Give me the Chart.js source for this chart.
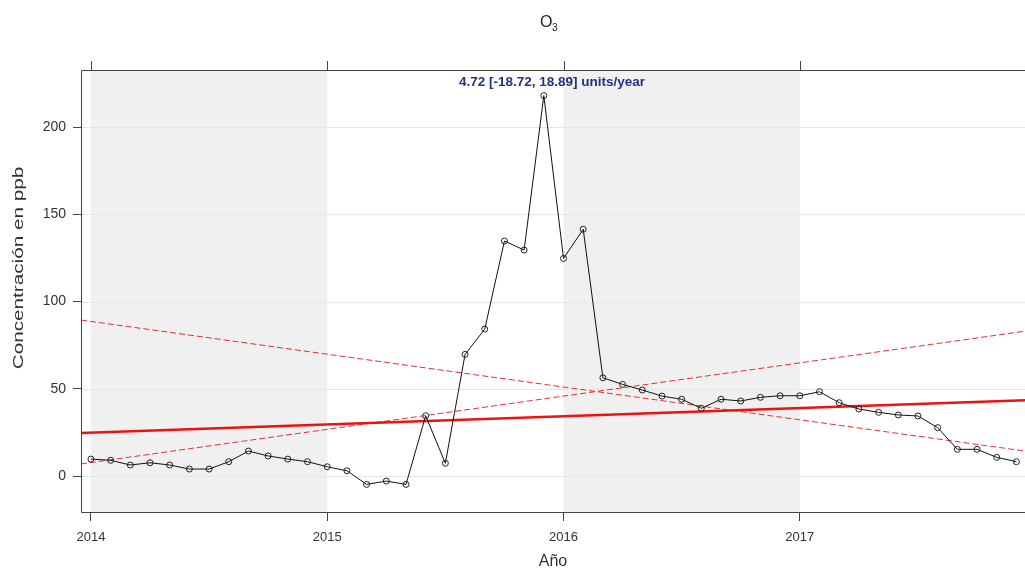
<!DOCTYPE html>
<html>
<head>
<meta charset="utf-8">
<script src="https://cdn.jsdelivr.net/npm/chart.js@4.4.0/dist/chart.umd.min.js"></script>
<style>
  html, body { margin: 0; padding: 0; background: #fff; overflow: hidden; }
  #wrap { width: 1025px; height: 575px; }
</style>
</head>
<body>
<div id="wrap"><canvas id="o3Chart" width="1025" height="575"></canvas></div>
<script>
// Datos mensuales de O3 (ppb), enero a diciembre
const anios = [2014, 2015, 2016, 2017];
const o3_2014 = [9.7, 9, 6.3, 7.6, 6.3, 4, 4, 8.2, 14.3, 11.5, 9.7, 8.2];
const o3_2015 = [5.3, 3, -4.8, -2.9, -4.8, 34.5, 7.3, 69.7, 84.2, 134.7, 129.5, 218];
const o3_2016 = [124.7, 141.4, 56.3, 52.5, 49.3, 45.8, 44, 38.8, 44, 43, 45.1, 46];
const o3_2017 = [46, 48.3, 42, 38.4, 36.5, 35, 34.4, 27.7, 15.3, 15.3, 10.7, 8.2];

// Tendencia (Theil-Sen) y su intervalo
const tendenciaX = [2013.958, 2017.953];
const tendencia = [24.6, 43.4];
const limiteSup = [6.9, 83];
const limiteInf = [89.4, 14.3];
const textoTendencia = '4.72 [-18.72, 18.89] units/year';

const ticksY = [0, 50, 100, 150, 200];
const fuente = '"Liberation Sans", Arial, sans-serif';

// Junta los valores por año en puntos {x, y}
const valores = [o3_2014, o3_2015, o3_2016, o3_2017];
const serie = [];
anios.forEach((anio, i) => {
    valores[i].forEach((v, m) => serie.push({ x: anio + m / 12, y: v }));
});
const linea = (ys) => tendenciaX.map((x, i) => ({ x: x, y: ys[i] }));

// Fondo gris por años alternos, rejilla, marco y textos
const fondoPlugin = {
    id: 'fondo',
    beforeDatasetsDraw(chart) {
        const { ctx, chartArea: a, scales: { x, y } } = chart;
        ctx.save();
        ctx.fillStyle = '#f0f0f0';
        [[2014, 2015], [2016, 2017]].forEach(([d, h]) => {
            const x0 = x.getPixelForValue(d), x1 = x.getPixelForValue(h);
            ctx.fillRect(x0, a.top, x1 - x0, a.bottom - a.top);
        });
        ctx.strokeStyle = '#e6e6e6';
        ctx.lineWidth = 1;
        ticksY.forEach(v => {
            const py = Math.round(y.getPixelForValue(v)) + 0.5;
            ctx.beginPath();
            ctx.moveTo(a.left, py);
            ctx.lineTo(a.right, py);
            ctx.stroke();
        });
        ctx.restore();
    },
    afterDraw(chart) {
        const { ctx, chartArea: a, scales: { x } } = chart;
        ctx.save();
        // marco sin el lado derecho (queda fuera de la imagen)
        ctx.strokeStyle = '#444';
        ctx.lineWidth = 1;
        ctx.beginPath();
        ctx.moveTo(a.right, a.top + 0.5);
        ctx.lineTo(a.left + 0.5, a.top + 0.5);
        ctx.lineTo(a.left + 0.5, a.bottom - 0.5);
        ctx.lineTo(a.right, a.bottom - 0.5);
        ctx.stroke();
        // marcas del eje superior
        anios.forEach(v => {
            const px = Math.round(x.getPixelForValue(v)) + 0.5;
            ctx.beginPath();
            ctx.moveTo(px, a.top - 9);
            ctx.lineTo(px, a.top);
            ctx.stroke();
        });
        // titulo O3
        ctx.fillStyle = '#222';
        ctx.textBaseline = 'alphabetic';
        ctx.textAlign = 'left';
        ctx.font = '16px ' + fuente;
        ctx.fillText('O', 540, 27);
        ctx.font = '10px ' + fuente;
        ctx.fillText('3', 552, 31);
        // texto de la tendencia
        ctx.font = 'bold 13.5px ' + fuente;
        ctx.fillStyle = '#25307f';
        ctx.textAlign = 'center';
        ctx.fillText(textoTendencia, 552, 86);
        // titulo del eje y (estirado en vertical como el original)
        ctx.fillStyle = '#333';
        ctx.font = '15px ' + fuente;
        ctx.translate(23, 268);
        ctx.rotate(-Math.PI / 2);
        ctx.scale(1.38, 1);
        ctx.textAlign = 'center';
        ctx.fillText('Concentración en ppb', 0, 0);
        ctx.restore();
    }
};

const ctx = document.getElementById('o3Chart').getContext('2d');
const o3Chart = new Chart(ctx, {
    type: 'line',
    data: {
        datasets: [
            {
                label: 'O3',
                data: serie,
                borderColor: '#111',
                borderWidth: 1,
                pointRadius: 3,
                pointBackgroundColor: 'rgba(255,255,255,0)',
                pointBorderColor: '#222',
                pointBorderWidth: 1,
                tension: 0,
                order: 0
            },
            {
                label: 'tendencia',
                data: linea(tendencia),
                borderColor: '#ee1111',
                borderWidth: 2.5,
                pointRadius: 0,
                order: 1
            },
            {
                label: 'limite superior',
                data: linea(limiteSup),
                borderColor: '#e43030',
                borderWidth: 1,
                borderDash: [6, 3],
                pointRadius: 0,
                order: 2
            },
            {
                label: 'limite inferior',
                data: linea(limiteInf),
                borderColor: '#e43030',
                borderWidth: 1,
                borderDash: [6, 3],
                pointRadius: 0,
                order: 2
            }
        ]
    },
    options: {
        responsive: false,
        animation: false,
        layout: { autoPadding: false, padding: { top: 70, right: 0, left: 0, bottom: 0 } },
        plugins: {
            legend: { display: false },
            tooltip: { enabled: false },
            title: { display: false }
        },
        scales: {
            x: {
                type: 'linear',
                min: 2013.958,
                max: 2017.953,
                afterBuildTicks: (s) => { s.ticks = anios.map(v => ({ value: v })); },
                afterFit: (s) => { s.height = 62; },
                grid: { drawOnChartArea: false, tickLength: 8, color: '#444' },
                border: { display: false },
                ticks: {
                    color: '#333',
                    font: { size: 13, family: fuente },
                    padding: 9,
                    maxRotation: 0,
                    callback: (v) => String(v)
                },
                title: {
                    display: true,
                    text: 'Año',
                    color: '#333',
                    font: { size: 16, family: fuente },
                    padding: { top: 9 }
                }
            },
            y: {
                min: -21.2,
                max: 232.7,
                afterBuildTicks: (s) => { s.ticks = ticksY.map(v => ({ value: v })); },
                afterFit: (s) => { s.width = 81; },
                grid: { drawOnChartArea: false, tickLength: 8, color: '#444' },
                border: { display: false },
                ticks: {
                    color: '#333',
                    font: { size: 14, family: fuente },
                    padding: 7
                },
                title: { display: false }
            }
        }
    },
    plugins: [fondoPlugin]
});
</script>
</body>
</html>
